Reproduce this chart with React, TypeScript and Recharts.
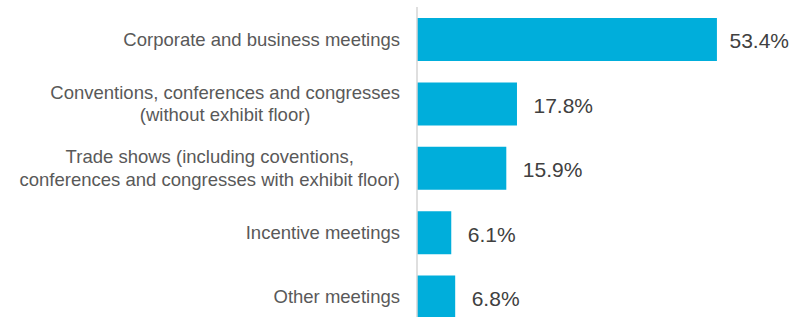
import React from "react";
import { BarChart, Bar, XAxis, YAxis, LabelList } from "recharts";

const categories = [
  "Corporate and business meetings",
  "Conventions, conferences and congresses\n(without exhibit floor)",
  "Trade shows (including coventions,\nconferences and congresses with exhibit floor)",
  "Incentive meetings",
  "Other meetings",
];
const shares = [53.4, 17.8, 15.9, 6.1, 6.8];

const data = categories.map((name, i) => ({ name, value: shares[i] }));

const FONT = "'Liberation Sans', Arial, sans-serif";
const TICK_SIZE = 18.5;
const VALUE_SIZE = 21;

let ctx: CanvasRenderingContext2D | null = null;
function measure(text: string, size: number): number {
  if (!ctx) {
    const c = document.createElement("canvas");
    ctx = c.getContext("2d");
  }
  if (!ctx) return text.length * size * 0.5;
  ctx.font = `${size}px 'Liberation Sans'`;
  return ctx.measureText(text).width;
}

function CategoryTick(props: any) {
  const { x, y, payload } = props;
  const lines = String(payload.value).split("\n");
  const maxW = Math.max(...lines.map((l) => measure(l, TICK_SIZE)));
  const cx = x - maxW / 2;
  const lh = 22.5;
  const startY = y - ((lines.length - 1) * lh) / 2;
  return (
    <text fill="#595959" fontSize={TICK_SIZE} fontFamily={FONT} textAnchor="middle">
      {lines.map((l, i) => (
        <tspan key={i} x={cx} y={startY + i * lh} dy="0.35em">
          {l}
        </tspan>
      ))}
    </text>
  );
}

const CHART_RIGHT_LIMIT = 789;

function ValueLabel(props: any) {
  const { x, y, width, height, value } = props;
  const text = `${Number(value).toFixed(1)}%`;
  const w = measure(text, VALUE_SIZE);
  let lx = Number(x) + Number(width) + 16.5;
  if (lx + w > CHART_RIGHT_LIMIT) lx = CHART_RIGHT_LIMIT - w;
  const ly = Number(y) + Number(height) / 2 + 1.5;
  return (
    <text
      x={lx}
      y={ly}
      dy="0.35em"
      fill="#404040"
      fontSize={VALUE_SIZE}
      fontFamily={FONT}
      textAnchor="start"
    >
      {text}
    </text>
  );
}

export default function App() {
  return (
    <div
      style={{
        position: "absolute",
        left: 0,
        top: 0,
        width: 805,
        height: 317,
        overflow: "hidden",
        background: "#ffffff",
      }}
    >
      <BarChart
        width={805}
        height={329}
        data={data}
        layout="vertical"
        margin={{ top: 7, right: 51, bottom: 0, left: 0 }}
      >
        <XAxis type="number" hide domain={[0, 60]} />
        <YAxis
          type="category"
          dataKey="name"
          width={417}
          axisLine={{ stroke: "#d4d4d4", strokeWidth: 1.5 }}
          tickLine={false}
          tickSize={0}
          tickMargin={17}
          tick={<CategoryTick />}
          interval={0}
        />
        <Bar dataKey="value" fill="#00AEDB" barSize={43} isAnimationActive={false}>
          <LabelList dataKey="value" content={<ValueLabel />} />
        </Bar>
      </BarChart>
    </div>
  );
}
